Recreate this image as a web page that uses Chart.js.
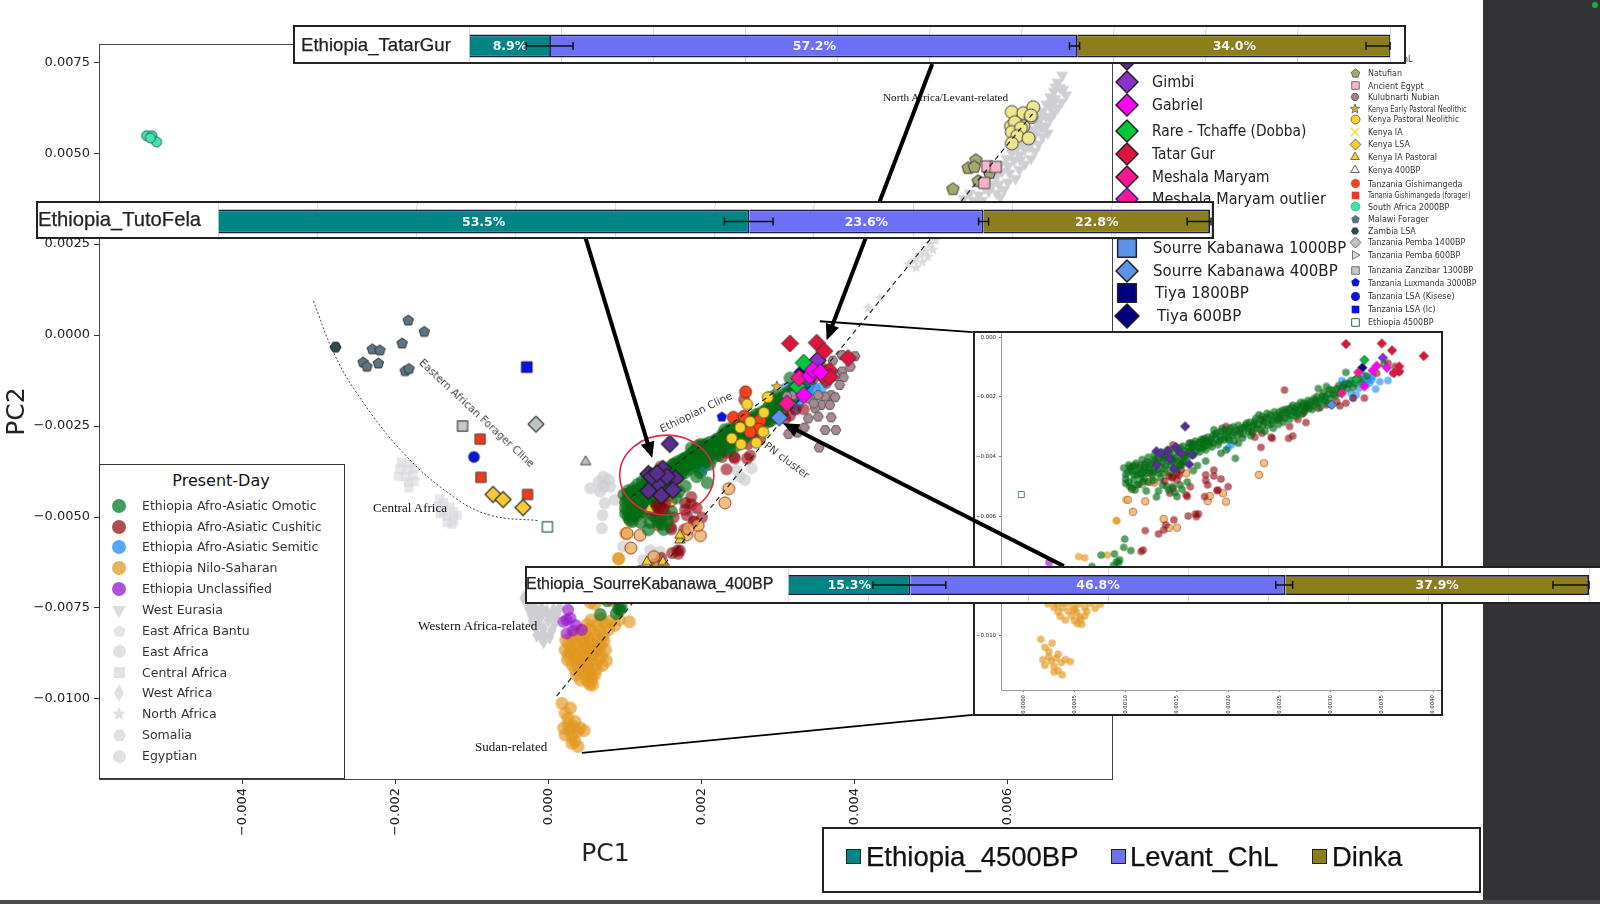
<!DOCTYPE html>
<html><head><meta charset="utf-8">
<script src="https://cdn.jsdelivr.net/npm/chart.js@4"></script>
<style>
html,body{margin:0;padding:0;background:#fff;width:1600px;height:904px;overflow:hidden;font-family:"DejaVu Sans",sans-serif}
body{filter:blur(.35px)}
.abs{position:absolute}
.box{position:absolute;background:#fff;border:2px solid #222;box-sizing:border-box}
.lbl{position:absolute;white-space:nowrap;line-height:1;color:#222}
canvas{display:block}
</style></head><body>
<script>
// All PCA values below are in units of 0.001
const K = 0.001;
const xTicksMain = [-0.004,-0.002,0,0.002,0.004,0.006];
const yTicksMain = [0.0075,0.005,0.0025,0,-0.0025,-0.005,-0.0075,-0.01];
const xTicksInset = [0,0.0005,0.001,0.0015,0.002,0.0025,0.003,0.0035,0.004];
const yTicksInset = [0,-0.002,-0.004,-0.006,-0.008,-0.01];

const omotic = [[.98,-4.38],[1.02,-4.52],[1.05,-4.42],[1.08,-4.62],[1.03,-4.28],[1.1,-4.22],[1.12,-4.48],[1.15,-4.7],[1.16,-4.1],[1.18,-4.35],[1.2,-4.55],[1.22,-4.02],[1.24,-4.25],[1.26,-4.62],[1.28,-3.95],[1.3,-4.18],[1.31,-4.44],[1.34,-4.72],[1.35,-3.85],[1.37,-4.08],[1.39,-4.32],[1.41,-3.78],[1.43,-4.55],[1.45,-3.98],[1.47,-4.22],[1.49,-3.72],[1.5,-4.42],[1.52,-3.9],[1.54,-4.12],[1.56,-3.65],[1.58,-3.82],[1.6,-4.02],[1.62,-3.55],[1.64,-3.75],[1.66,-3.95],[1.68,-3.48],[1.7,-3.68],[1.72,-3.85],[1.74,-3.42],[1.76,-3.58],[1.78,-3.78],[1.8,-3.35],[1.82,-3.52],[1.84,-3.68],[1.86,-3.1],[1.88,-3.42],[1.9,-3.6],[1.92,-3.3],[1.94,-3.05],[1.96,-3.45],[1.98,-3.22],[2.0,-3.38],[2.02,-3.05],[2.04,-3.28],[2.06,-3.48],[2.08,-3.12],[2.1,-2.95],[2.12,-3.2],[2.14,-3.38],[2.16,-3.02],[2.18,-2.88],[2.2,-3.15],[2.22,-3.3],[2.24,-2.98],[2.26,-2.82],[2.28,-3.05],[2.3,-2.6],[2.32,-2.78],[2.34,-2.95],[2.36,-3.15],[2.38,-2.55],[2.4,-2.72],[2.42,-2.9],[2.44,-3.05],[2.46,-2.62],[2.48,-2.78],[2.5,-2.5],[2.52,-2.68],[2.54,-2.85],[2.56,-2.42],[2.58,-2.58],[2.6,-2.75],[2.62,-2.35],[2.64,-2.5],[2.66,-2.65],[2.68,-2.28],[2.7,-2.42],[2.72,-2.58],[2.74,-2.2],[2.76,-2.35],[2.78,-2.12],[2.8,-2.28],[2.82,-2.42],[2.84,-2.05],[2.86,-2.2],[2.88,-1.72],[2.9,-2.35],[2.92,-1.98],[2.94,-2.12],[2.96,-1.65],[2.98,-1.9],[3.0,-2.05],[3.02,-1.78],[3.05,-1.95],[3.08,-1.62],[3.1,-1.8],[3.14,-1.55],[3.16,-1.72],[3.2,-1.45],[3.22,-1.68],[3.25,-1.4],[3.3,-1.5],[3.35,-1.3],[3.52,-.9],[3.15,-1.18],
[1.07,-4.33],[1.11,-4.6],[1.17,-4.52],[1.21,-4.18],[1.25,-4.42],[1.29,-4.08],[1.33,-4.3],[1.36,-4.55],[1.4,-3.98],[1.44,-4.28],[1.48,-4.05],[1.51,-3.82],[1.55,-4.28],[1.59,-3.95],[1.63,-3.85],[1.67,-3.6],[1.71,-3.55],[1.75,-3.72],[1.79,-3.5],[1.83,-3.42],[1.87,-3.25],[1.91,-3.5],
[1.0,-4.6],[1.04,-4.36],[1.06,-4.5],[1.09,-4.3],[1.13,-4.38],[1.14,-4.58],[1.19,-4.25],[1.19,-4.45],[1.23,-4.35],[1.27,-4.15],[1.27,-4.5],[1.32,-4.05],[1.32,-4.55],[1.36,-3.95],[1.36,-4.2],[1.38,-4.42],[1.42,-4.15],[1.42,-3.9],[1.46,-3.75],[1.46,-4.1],[1.5,-4.15],[1.53,-3.7],[1.53,-4.3],[1.57,-3.95],[1.57,-4.15],[1.61,-3.7],[1.61,-3.85],[1.65,-3.55],[1.65,-3.7],[1.69,-3.8],[1.73,-3.5],[1.73,-3.7],[1.77,-3.4],[1.77,-3.65],[1.81,-3.6],[1.85,-3.3],[1.85,-3.55],[1.89,-3.2],[1.93,-3.15],[1.93,-3.42],[1.97,-3.1],[1.97,-3.32],[2.01,-3.15],[2.01,-3.45],[2.05,-3.0],[2.05,-3.2],[2.09,-3.3],[2.13,-3.05],[2.15,-3.25],[2.17,-2.95],[2.19,-3.05],[2.21,-2.85],[2.23,-3.15],[2.25,-2.92],[2.27,-2.72],[2.29,-2.92],[2.31,-3.1],[2.33,-2.65],[2.35,-2.85],[2.37,-2.7],[2.39,-2.95],[2.41,-2.6],[2.43,-2.8],[2.45,-2.5],[2.47,-2.72],[2.49,-2.92],[2.51,-2.6],[2.53,-2.45],[2.55,-2.72],[2.57,-2.52],[2.59,-2.4],[2.61,-2.62],[2.63,-2.28],[2.65,-2.42],[2.67,-2.55],[2.69,-2.35],[2.71,-2.18],[2.73,-2.3],[2.75,-2.48],[2.77,-2.25],[2.79,-2.38],[2.81,-2.15],[2.83,-2.3],[2.85,-2.12],[2.87,-1.98],[2.89,-2.18],[2.91,-2.08],[2.93,-1.85],[2.95,-2.0],[2.97,-2.2],[2.99,-1.75],[3.03,-1.92],[3.06,-1.72],[3.09,-1.88],[3.12,-1.68],[3.18,-1.58],[3.24,-1.55],[3.28,-1.4],
[1.0,-4.75],[1.03,-4.85],[1.08,-4.78],[1.13,-4.92],[1.18,-4.72],[1.22,-4.85],[1.27,-4.8],[1.04,-5.0],[1.32,-5.15],[1.36,-4.95],[1.42,-5.12],[1.48,-5.2],[1.55,-5.1],[1.6,-4.85],[1.7,-4.3],[1.78,-4.15],[2.1,-3.55],
[1.46,-5.0],[1.5,-5.34],[1.09,-5.12],[1.11,-4.95],[1.17,-4.84],[1.4,-5.0],[1.53,-4.95],[1.66,-4.47],[1.93,-3.89],[1.98,-3.78],[2.07,-4.06],[.99,-6.76],[.98,-7.04],[1.05,-7.15],[.76,-7.3],[.89,-7.26],[.94,-7.46],[.91,-7.52],[.93,-7.55],[.67,-7.68],[.88,-7.65],[1.0,-4.9],[1.06,-5.05],[1.2,-5.15],[1.3,-5.35]];
const cushitic = [[3.33,-2.04],[3.22,-2.04],[3.09,-2.3],[3.15,-2.21],[3.06,-2.16],[2.96,-2.27],[2.88,-2.38],[2.76,-2.38],[2.73,-2.55],[2.68,-2.75],[2.76,-2.86],[2.6,-2.99],[2.59,-3.39],[2.55,-1.77],[2.63,-3.31],[2.42,-3.35],[2.43,-3.39],[2.32,-3.69],[2.24,-3.2],[2.33,-3.22],[2.26,-3.35],[1.46,-3.61],[1.63,-3.55],[1.53,-4.28],[1.5,-4.56],[1.54,-4.45],[1.46,-4.67],[1.56,-4.17],[1.37,-4.0],[1.15,-4.28],[1.24,-4.56],[1.63,-5.01],[1.59,-5.28],[1.6,-5.34],[1.46,-5.06],[1.43,-5.23],[1.86,-4.45],[1.78,-4.61],[1.86,-4.65],[1.78,-4.8],[1.8,-4.95],[1.93,-4.75],[2.0,-5.01],[1.9,-5.12],[1.89,-5.14],[1.77,-5.34],[1.61,-5.99],[1.68,-5.92],[1.69,-6.01],[1.71,-5.92],[1.47,-6.12],[1.39,-6.29],[1.37,-6.46],[1.32,-6.59],[1.19,-6.48],[1.17,-7.13],[1.15,-7.18],[3.56,-.87],[3.45,-1.21],[3.61,-1.21],[3.67,-1.15],[3.63,-.98],[2.34,-2.77],[2.5,-2.72],[1.76,-3.44],[1.98,-2.99],[2.11,-3.11]];
const cushiticDeep = [[1.45,-4.72],[1.5,-4.78],[1.38,-4.82],[1.52,-4.62],[1.42,-4.65]];
const semitic = [[2.03,-3.61],[2.65,-2.49],[3.12,-1.6],[3.11,-1.45],[3.17,-1.54],[3.22,-2.04],[3.25,-1.93],[3.28,-1.71],[3.37,-1.37],[3.4,-1.43],[3.38,-1.54],[3.44,-1.74],[3.56,-1.45],[3.48,-1.49],[3.41,-1.32],[3.32,-1.26],[3.01,-2.27],[3.2,-1.88],[3.33,-1.6],[3.35,-1.49],[2.0,-3.71]];
const nilo = [[.91,-6.15],[.54,-7.35],[.6,-7.39],[.82,-7.3],[1.0,-5.45],[.91,-6.14],
[.55,-7.83],[.68,-7.8],[.8,-7.86],[.92,-7.82],[1.05,-7.88],[.5,-7.95],[.63,-7.97],[.74,-7.93],[.86,-7.98],[.42,-8.1],[.54,-8.08],[.66,-8.12],[.78,-8.09],[.3,-8.25],[.4,-8.23],[.5,-8.27],[.6,-8.24],[.71,-8.26],[.22,-8.38],[.31,-8.4],[.44,-8.36],[.53,-8.39],[.64,-8.37],[.72,-8.41],[.26,-8.5],[.37,-8.52],[.47,-8.49],[.57,-8.51],[.68,-8.5],[.21,-8.65],[.3,-8.63],[.41,-8.66],[.52,-8.64],[.63,-8.67],[.74,-8.65],[.25,-8.8],[.36,-8.78],[.46,-8.81],[.56,-8.79],[.69,-8.82],[.24,-8.93],[.33,-8.95],[.43,-8.92],[.54,-8.94],[.65,-8.91],[.75,-8.95],[.3,-9.05],[.38,-9.07],[.49,-9.04],[.6,-9.06],[.7,-9.08],[.34,-9.2],[.44,-9.18],[.52,-9.22],[.62,-9.19],[.36,-9.35],[.47,-9.33],[.55,-9.37],[.6,-9.34],[.41,-9.48],[.5,-9.5],[.56,-9.47],[.53,-9.6],[.57,-9.62],
[.35,-8.3],[.47,-8.58],[.58,-8.72],[.28,-8.72],[.39,-8.88],[.5,-9.12],[.66,-8.58],[.48,-8.18],
[.17,-10.12],[.28,-10.25],[.21,-10.39],[.25,-10.53],[.34,-10.62],[.19,-10.8],[.46,-10.87],[.21,-10.99],[.3,-11.03],[.34,-11.17],[.38,-11.31],[.37,-10.9],[.27,-10.85],[.25,-10.71],[.32,-10.76],[.41,-10.8],[.3,-11.22]];
const niloEdged = [[2.35,-4.22],[2.3,-4.61],[1.98,-5.51],[1.8,-5.49],[1.5,-6.38],[1.42,-6.39],[1.19,-5.5],[1.07,-5.85],[1.02,-5.45],[1.06,-5.09],[1.16,-4.93],[1.28,-4.87],[1.37,-6.09],[1.95,-5.23],[1.82,-5.32],[1.59,-4.56],[1.24,-4.84]];
const unclassified = [[.25,-7.55],[.23,-7.83],[.35,-7.97],[.31,-8.12],[.23,-8.2],[.43,-8.1],[.19,-7.88],[.28,-7.78]];
const westEurasia = [[6.71,7.14],[6.65,6.95],[6.68,6.8],[6.6,6.7],[6.62,6.5],[6.55,6.55],[6.5,6.35],[6.56,6.25],[6.45,6.15],[6.5,6.0],[6.42,5.95],[6.38,5.8],[6.44,5.7],[6.3,5.65],[6.35,5.5],[6.25,5.45],[6.3,5.3],[6.2,5.25],[6.22,5.1],[6.12,5.15],[6.15,4.95],[6.05,5.0],[6.08,4.8],[5.98,4.85],[6.0,4.65],[5.9,4.7],[5.92,4.5],[5.82,4.6],[5.85,4.35],[5.75,4.4],[5.8,4.15],[5.7,4.05],[5.75,3.95],[5.62,3.85],[5.66,3.7],[5.55,3.7],
[6.76,6.6],[6.7,6.4],[6.65,6.25],[6.6,6.1],[6.55,5.95],[6.5,5.75],[6.52,5.55],[6.45,5.45],[6.4,5.25],[6.35,5.05],[6.3,4.85],[6.22,4.7],[6.15,4.55],[6.1,4.3],[6.0,4.2],[5.95,4.0],[5.9,3.8],[5.85,3.9],[5.5,3.9],[5.42,3.75],[6.72,6.75],[6.62,6.82],[6.58,6.38],[6.44,6.02],[6.36,5.62],[6.28,5.18],[6.16,4.82],[6.02,4.45],[5.88,4.15]];
const northAfrica = [[5.05,2.6],[4.98,2.5],[5.02,2.35],[4.92,2.3],[4.95,2.15],[4.85,2.2],[4.88,2.0],[4.78,2.05],[4.8,1.85],[4.7,1.95],[4.33,1.02],[4.17,.74]];
const eastAfrica = [[.71,-3.89],[.65,-4.03],[.78,-3.98],[.71,-4.17],[.54,-4.21],[.8,-4.17],[.67,-4.3],[.73,-4.62],[.86,-4.53],[.7,-4.95],[.69,-5.31],[.97,-5.81],[1.32,-5.91],[1.45,-5.95],[1.23,-6.18],[2.5,-3.89],[2.65,-3.66],[2.56,-3.98],[2.45,-3.71],[1.86,-4.85],[1.8,-4.62],[1.38,-6.05]];
const westAfrica = [[-.33,-7.23],[-.2,-7.42],[-.1,-7.5],[.06,-7.55],[.14,-7.5],[-.23,-7.69],[-.12,-7.78],[-.01,-7.83],[.1,-7.69],[-.18,-8.01],[-.07,-8.06],[.04,-8.1],[-.16,-8.24],[-.07,-8.42],[.01,-8.29],[-.03,-7.6],[-.27,-7.5],[-.14,-7.95],[-.06,-8.22],[.08,-7.9],[-.17,-7.6],[.02,-7.72],[-.09,-7.66],[-.22,-7.85],[-.1,-8.3]];
const centralAfrica = [[-1.93,-3.5],[-1.82,-3.52],[-1.95,-3.68],[-1.85,-3.7],[-1.76,-3.66],[-1.97,-3.88],[-1.88,-3.9],[-1.78,-3.86],[-1.84,-4.05],[-1.76,-4.02],[-1.83,-4.2],[-1.43,-4.5],[-1.38,-4.6],[-1.45,-4.7],[-1.3,-4.72],[-1.38,-4.85],[-1.25,-4.85],[-1.2,-4.95],[-1.33,-4.98],[-1.25,-5.1],[-1.33,-5.15],[-1.42,-4.9],[-1.27,-5.2]];
const levantChL = [[6.05,6.13],[6.2,6.1],[6.33,6.26],[6.3,5.99],[6.04,5.74],[6.2,5.74],[6.09,5.85],[6.05,5.58],[6.17,5.69],[6.12,5.47],[6.27,5.41],[6.05,5.27],[6.3,6.04]];
const natufian = [[5.28,4.01],[5.48,4.59],[5.58,4.81],[5.56,4.62],[5.76,4.45],[5.61,4.23]];
const ancientEgypt = [[5.73,4.64],[5.84,4.62],[5.69,4.18]];
const kulubnarti = [[3.83,-.55],[4.0,-.58],[3.71,-.7],[3.94,-.87],[3.83,-1.0],[3.85,-1.16],[3.74,-1.13],[3.8,-1.37],[3.63,-1.33],[3.69,-1.65],[3.74,-1.71],[3.61,-1.69],[3.52,-1.65],[3.39,-1.74],[3.19,-1.65],[3.11,-1.68],[3.56,-1.92],[3.48,-2.01],[3.67,-1.92],[3.39,-2.29],[3.52,-2.24],[3.69,-2.26],[3.61,-2.61],[3.75,-2.61],[3.34,-2.54],[3.13,-2.72],[3.25,-2.68],[3.53,-3.09],[3.46,-1.88]];
const kenyaEarlyPastoral = [[2.98,-1.42]];
const kenyaPastoral = [[2.59,-1.9],[2.86,-1.71],[2.39,-2.84],[2.51,-3.0],[2.71,-2.96],[2.8,-2.66],[2.5,-2.54],[2.81,-2.13],[2.63,-2.38]];
const kenyaLSA = [[-.73,-4.38],[-.6,-4.52],[-.34,-4.74]];
const kenyaIAPastoral = [[1.31,-4.79],[1.71,-5.63],[1.71,-5.5],[1.28,-6.23],[1.49,-6.23]];
const kenya400 = [[.48,-3.48]];
const gishimangeda = [[2.57,-1.56],[2.41,-2.26],[2.55,-2.23],[2.76,-2.34],[2.74,-2.58],[2.63,-2.66]];
const gishForager = [[-.9,-2.86],[-.89,-3.91],[-.28,-4.38]];
const southAfrica = [[-5.26,5.48],[-5.19,5.48],[-5.13,5.31],[-5.21,5.42]];
const malawi = [[-1.84,.4],[-1.63,.09],[-1.92,-.23],[-2.31,-.39],[-2.21,-.42],[-2.43,-.75],[-2.38,-.87],[-2.23,-.78],[-1.88,-.99],[-1.83,-.93]];
const zambia = [[-2.79,-.33]];
const pemba1400 = [[-.17,-2.45]];
const zanzibar = [[-1.13,-2.5]];
const luxmanda = [[2.26,-2.25]];
const kisese = [[-.98,-3.35]];
const lsaLc = [[-.29,-.88]];
const ethiopia4500 = [[-.02,-5.27]];
const tutoFela = [[1.58,-2.99],[1.3,-3.82],[1.49,-3.68],[1.65,-3.94],[1.43,-4.08],[1.3,-4.28],[1.47,-4.41],[1.54,-3.89],[1.34,-3.89],[1.62,-4.26],[1.41,-3.8]];
const gimbi = [[3.51,-.69]];
const gabriel = [[3.33,-1.65],[3.41,-1.12],[3.45,-.96],[3.55,-1.02]];
const rare = [[3.33,-.76],[3.25,-1.41]];
const tatarGur = [[3.15,-.23],[3.5,-.21],[3.6,-.44],[3.91,-.63],[3.67,-.98],[3.62,-1.2],[3.67,-1.15]];
const meshala = [[3.27,-1.18],[3.11,-1.88]];
const sourre400 = [[3.01,-2.27]];
const tiya600 = [[3.31,-1.02]];
// guide lines & callouts (same units)
const pnCline = [[.1,-9.92],[6.33,6.1]];
const ethCline = [[1.08,-4.44],[3.28,-1.05]];
const foragerCurve = [[-3.08,.94],[-2.82,-.46],[-2.51,-1.6],[-1.9,-3.25],[-1.25,-4.44],[-.77,-4.95],[-.14,-5.1]];
const calloutArrows = [[5.01,7.45,3.63,-.14],[.48,2.66,1.35,-3.38],[6.73,-6.35,3.06,-2.42]];
const insetConnectors = [[5.54,.08,3.54,.38],[5.54,-10.44,.43,-11.48]];
const circleNote = [1.54,-3.85,.615,1.1];

const presentLabels = ["Ethiopia Afro-Asiatic Omotic","Ethiopia Afro-Asiatic Cushitic","Ethiopia Afro-Asiatic Semitic","Ethiopia Nilo-Saharan","Ethiopia Unclassified","West Eurasia","East Africa Bantu","East Africa","Central Africa","West Africa","North Africa","Somalia","Egyptian"];
const bigLegendLabels = ["Tuto Fela","Gimbi","Gabriel","Rare - Tchaffe (Dobba)","Tatar Gur","Meshala Maryam","Meshala Maryam outlier","Sourre Kabanawa 1000BP","Sourre Kabanawa 400BP","Tiya 1800BP","Tiya 600BP"];
const smallLegendLabels = ["Levant ChL","Natufian","Ancient Egypt","Kulubnarti Nubian","Kenya Early Pastoral Neolithic","Kenya Pastoral Neolithic","Kenya IA","Kenya LSA","Kenya IA Pastoral","Kenya 400BP","Tanzania Gishimangeda","Tanania Gishimangeda (forager)","South Africa 2000BP","Malawi Forager","Zambia LSA","Tanzania Pemba 1400BP","Tanzania Pemba 600BP","Tanzania Zanzibar 1300BP","Tanzania Luxmanda 3000BP","Tanzania LSA (Kisese)","Tanzania LSA (lc)","Ethiopia 4500BP"];

const ancestry = ["Ethiopia_4500BP","Levant_ChL","Dinka"];
const barTatar = [8.9,57.2,34.0];
const barTuto = [53.5,23.6,22.8];
const barSourre = [15.3,46.8,37.9];
const errTatar = [[6.2,11.3],[65.2,66.3],[97.4,100]];
const errTuto = [[51.0,55.9],[76.6,77.6],[97.6,100]];
const errSourre = [[10.6,19.7],[60.9,63.0],[95.5,100]];

// ---- colours
const C = {om:'rgba(0,110,20,.66)',cu:'rgba(140,0,10,.6)',se:'rgba(30,144,255,.65)',ni:'rgba(226,150,30,.66)',un:'rgba(150,20,205,.65)',gr:'rgba(205,205,210,.7)',gs:'#cfcfd3',gl:'rgba(215,215,220,.6)'};

function mk(kind,r,fill,stroke,lw){
  lw = lw||0; const pad=Math.ceil(lw)+1, s=Math.ceil(2*(r+pad)); const c=document.createElement('canvas'); c.width=s;c.height=s;
  const g=c.getContext('2d'), m=s/2; g.lineJoin='round'; g.beginPath();
  const poly=(n,rot)=>{for(let i=0;i<n;i++){const a=rot+i*2*Math.PI/n;g[i?'lineTo':'moveTo'](m+r*Math.cos(a),m+r*Math.sin(a));}g.closePath();};
  const up=-Math.PI/2;
  if(kind==='circle')g.arc(m,m,r,0,7);
  else if(kind==='square')g.rect(m-r*.85,m-r*.85,r*1.7,r*1.7);
  else if(kind==='diamond')poly(4,0);
  else if(kind==='thin'){g.moveTo(m,m-r);g.lineTo(m+r*.55,m);g.lineTo(m,m+r);g.lineTo(m-r*.55,m);g.closePath();}
  else if(kind==='tri')poly(3,up);
  else if(kind==='tridown')poly(3,-up);
  else if(kind==='triright')poly(3,0);
  else if(kind==='pent')poly(5,up);
  else if(kind==='hex')poly(6,0);
  else if(kind==='star'){for(let i=0;i<10;i++){const a=up+i*Math.PI/5,q=i%2?r*.45:r;g[i?'lineTo':'moveTo'](m+q*Math.cos(a),m+q*Math.sin(a));}g.closePath();}
  else if(kind==='x'){g.moveTo(m-r,m-r);g.lineTo(m+r,m+r);g.moveTo(m+r,m-r);g.lineTo(m-r,m+r);g.strokeStyle=fill;g.lineWidth=1.6;g.stroke();return c;}
  if(fill){g.fillStyle=fill;g.fill();}
  if(stroke&&lw){g.strokeStyle=stroke;g.lineWidth=lw;g.stroke();}
  return c;
}
const pts = a=>a.map(p=>({x:p[0]*K,y:p[1]*K}));
function ds(a,kind,r,fill,stroke,lw){return {data:pts(a),pointStyle:mk(kind,r,fill,stroke,lw),pointRadius:r,showLine:false};}
function line(a,color,w,dash,tension){return {data:pts(a),showLine:true,pointRadius:0,borderColor:color,borderWidth:w,borderDash:dash,tension:tension||0,fill:false};}

const mainLayers = [
 ds(westEurasia,'tridown',7,C.gs), ds(northAfrica,'star',6,C.gr), ds(eastAfrica,'circle',6,C.gr), ds(westAfrica,'thin',8,C.gs), ds(centralAfrica,'square',5.5,C.gl),
 line(foragerCurve,'#444',1,[2,2],.4),
 ds(nilo,'circle',6.5,C.ni), ds(unclassified,'circle',6,C.un), ds(semitic,'circle',6,C.se),
 ds(cushitic,'circle',6,C.cu), ds(niloEdged,'circle',6,'rgba(235,170,90,.75)','#a04020',1), ds(omotic,'circle',6.5,C.om), ds(cushiticDeep,'circle',6,C.cu),
 ds(levantChL,'circle',6.5,'#eee78e','#444',1), ds(natufian,'pent',6.5,'#a5a96e','#333',1), ds(ancientEgypt,'square',6.5,'#f7b6c8','#444',1),
 ds(kulubnarti,'hex',5,'#a98a92','#555',1),
 ds(gishimangeda,'circle',6,'#f0431e','#8a2a10',1), ds(kenyaPastoral,'circle',5.5,'#f8d030','#6a5a10',1), ds(kenyaEarlyPastoral,'star',6,'#d8b830','#555',.8), ds(kenyaIAPastoral,'tri',6,'#f5cf2a','#444',1),
 ds(kenya400,'tri',6,'#b8c0c4','#444',1), ds(gishForager,'square',6,'#ee3a1e','#444',1), ds(southAfrica,'circle',5,'#45e0b0','#1f6a60',1),
 ds(malawi,'pent',5.5,'#5f7482','#333',1), ds(zambia,'hex',5.5,'#2f4a50','#222',1), ds(pemba1400,'diamond',8,'#bcc4c4','#444',1.2), ds(zanzibar,'square',6,'#c3cacc','#444',1.2),
 ds(luxmanda,'pent',5.5,'#0a14d8'), ds(kisese,'circle',5.5,'#0a14d8','#222',.6), ds(lsaLc,'square',6.5,'#0a14e0','#222',.6), ds(ethiopia4500,'square',6,'#fff','#2f6a4a',1.3),
 ds(kenyaLSA,'diamond',8,'#fbc933','#333',1.2),
 line(pnCline,'#222',1.2,[5,4]), line(ethCline,'#222',1.2,[5,4]),
 ds(tiya600,'diamond',8.5,'#000080','#222',1), ds(tutoFela,'diamond',8.5,'#5a2d91','#222',1.2), ds(gimbi,'diamond',8.5,'#8b32c8','#222',1.2),
 ds(tatarGur,'diamond',8.5,'#dc143c','#333',1), ds(rare,'diamond',8.5,'#00c83c','#222',1), ds(meshala,'diamond',8.5,'#ff1493','#333',1), ds(gabriel,'diamond',8.5,'#ff00ff','#333',1), ds(sourre400,'diamond',8.5,'#5a93e8','#224',1)
];
const insetLayers = [
 ds(nilo,'circle',3.8,C.ni), ds(unclassified,'circle',3.8,C.un), ds(semitic,'circle',3.8,C.se),
 ds(niloEdged,'circle',3.8,'rgba(235,170,90,.75)','#a04020',.6), ds(cushitic,'circle',3.8,C.cu), ds(omotic,'circle',3.8,C.om), ds(cushiticDeep,'circle',3.8,C.cu),
 ds(ethiopia4500,'square',3.5,'#fff','#2f6a4a',.8),
 ds(tutoFela,'diamond',4.8,'#5a2d91','#336',.6), ds(gimbi,'diamond',4.8,'#8b32c8','#336',.6), ds(tiya600,'diamond',4.8,'#000080','#224',.6),
 ds(tatarGur,'diamond',4.8,'#dc143c','#844',.6), ds(rare,'diamond',4.8,'#00b83c','#244',.6), ds(meshala,'diamond',4.8,'#ff1493','#844',.6), ds(gabriel,'diamond',4.8,'#ff00ff','#844',.6), ds(sourre400,'diamond',4.8,'#5a93e8','#224',.6)
];

function addCanvas(l,t,w,h,z){const c=document.createElement('canvas');c.width=w;c.height=h;c.className='abs';c.style.cssText=`left:${l}px;top:${t}px;width:${w}px;height:${h}px;z-index:${z}`;document.body.appendChild(c);return c;}
const minus = s=>s.replace('-','\u2212');
const frame = {id:'frame',afterDraw(ch){const a=ch.chartArea,g=ch.ctx;g.save();g.strokeStyle='#444';g.lineWidth=1;g.strokeRect(Math.round(a.left)+.5,Math.round(a.top)+.5,Math.round(a.width),Math.round(a.height));g.restore();}};
const note = {id:'note',afterDatasetsDraw(ch){const [cx,cy,rx,ry]=circleNote,X=ch.scales.x,Y=ch.scales.y,g=ch.ctx;g.save();g.strokeStyle='#e02a48';g.lineWidth=1.6;g.beginPath();
  g.ellipse(X.getPixelForValue(cx*K),Y.getPixelForValue(cy*K),X.getPixelForValue((cx+rx)*K)-X.getPixelForValue(cx*K),Y.getPixelForValue((cy-ry)*K)-Y.getPixelForValue(cy*K),0,0,7);g.stroke();g.restore();}};

function scatterOpts(o){return {responsive:false,animation:false,events:[],layout:{padding:o.pad,autoPadding:false},
 plugins:{legend:{display:false},tooltip:{enabled:false}},
 scales:{
  x:{type:'linear',min:o.xr[0],max:o.xr[1],position:'bottom',afterFit:s=>{s.height=o.xh;s.paddingLeft=0;s.paddingRight=0;},afterBuildTicks:s=>{s.ticks=o.xt.map(v=>({value:v}))},
    grid:{drawOnChartArea:false,tickLength:o.tl,color:o.tc},border:{display:false},
    ticks:{autoSkip:false,minRotation:90,maxRotation:90,font:{size:o.fs,family:'DejaVu Sans'},color:'#222',padding:o.tp,callback:v=>minus(v.toFixed(o.xd))},
    title:o.xtitle},
  y:{type:'linear',min:o.yr[0],max:o.yr[1],afterFit:s=>{s.width=o.yw;s.paddingTop=0;s.paddingBottom=0;},afterBuildTicks:s=>{s.ticks=o.yt.map(v=>({value:v}))},
    grid:{drawOnChartArea:false,tickLength:o.tl,color:o.tc},border:{display:false},
    ticks:{autoSkip:false,font:{size:o.fs,family:'DejaVu Sans'},color:'#222',padding:o.tp,callback:v=>minus(v.toFixed(o.yd))},
    title:o.ytitle}
 }};}

const mainChart = new Chart(addCanvas(0,0,1600,904,1),{type:'scatter',data:{datasets:mainLayers.slice().reverse()},plugins:[frame,note],
 options:scatterOpts({pad:{top:44,right:488,left:0,bottom:0},xr:[-5.882*K,7.36*K],yr:[-12.2*K,8.0*K],xh:125,yw:99,xt:xTicksMain,yt:yTicksMain,tl:5,tc:'#333',fs:13,tp:4,xd:3,yd:4,
  xtitle:{display:true,text:'PC1',font:{size:25,family:'DejaVu Sans'},color:'#222',padding:{top:0,bottom:35}},
  ytitle:{display:true,text:'PC2',font:{size:25,family:'DejaVu Sans'},color:'#222',padding:{top:2,bottom:0}}})});

// ---- present-day legend
const presentMarkers = [mk('circle',7,'#3f9f5a'),mk('circle',7,'#ad4f52'),mk('circle',7,'#55a8f5'),mk('circle',7,'#e6b35f'),mk('circle',7,'#b04fdc'),mk('tridown',8,'#dcdce0'),mk('pent',6.5,'#e4e4e6'),mk('circle',6.5,'#e0e0e4'),mk('square',6.5,'#e2e2e4'),mk('thin',9,'#e0e0e4'),mk('star',7,'#dfdfe2'),mk('hex',6.5,'#e0e0e4'),mk('circle',6.5,'#e0e0e4')];
const presentY = [506,526.5,547,568,589,610,631,651.5,672.5,693,714,735,756];
function addMarker(c,x,y,z){c.className='abs';c.style.left=(x-c.width/2)+'px';c.style.top=(y-c.height/2)+'px';c.style.zIndex=z;document.body.appendChild(c);}
function addText(t,x,y,css,z){const d=document.createElement('div');d.className='lbl';d.textContent=t;d.style.cssText=`left:${x}px;top:${y}px;z-index:${z||2};transform:translateY(-50%);`+css;document.body.appendChild(d);return d;}
const pbox=document.createElement('div');pbox.className='box';pbox.style.cssText='left:99px;top:464px;width:246px;height:315px;z-index:2;border-width:1.5px;border-color:#333';document.body.appendChild(pbox);
addText('Present-Day',221,481,'font-size:16px;color:#111;transform:translate(-50%,-50%);',2);
presentLabels.forEach((t,i)=>{addMarker(presentMarkers[i],119,presentY[i],3);addText(t,142,presentY[i],'font-size:12.5px;color:#333;',3);});

// ---- right legends
const bigMarkers=[mk('diamond',10,'#5a2d91','#222',1.5),mk('diamond',11,'#8b32c8','#222',1.5),mk('diamond',11,'#ff00ff','#222',1.5),mk('diamond',11,'#00c83c','#222',1.5),mk('diamond',11,'#dc143c','#222',1.5),mk('diamond',11,'#ff1493','#222',1.5),mk('diamond',11,'#ff1493','#2222cc',1.5),mk('square',11,'#5a93e8','#222',1.5),mk('diamond',11,'#5a93e8','#222',1.5),mk('square',11,'#000080','#222',1.5),mk('diamond',12,'#000080','#222',1.5)];
const bigY=[60,81.7,105,131,154,177,199,248,270.7,293,316];
const bigTextY=[53,82.7,106,132,155,178,200,249,271.7,294,317];
const bigScale=[.9,.93,.91,.89,.885,.89,.93,.965,.97,.975,.975];
const bigX=[1152,1152,1152,1152,1152,1152,1152,1153,1153,1155,1157];
bigLegendLabels.forEach((t,i)=>{addMarker(bigMarkers[i],1127,bigY[i],2);addText(t,bigX[i],bigTextY[i],`font-size:15.5px;color:#222;transform-origin:0 50%;transform:translateY(-50%) scaleX(${bigScale[i]});`,2);});
const smallMarkers=[mk('circle',4,'#eee78e','#444',.8),mk('pent',4.5,'#a5a96e','#555',.8),mk('square',4.5,'#f7b6c8','#555',.8),mk('hex',4,'#a58088','#555',.8),mk('star',5,'#c8b040','#555',.7),mk('circle',4.5,'#f8d030','#555',.8),mk('x',4,'#ffd83a'),mk('diamond',5.5,'#fbc933','#555',.8),mk('tri',5,'#f5cf2a','#555',.8),mk('tri',5,'#fff','#555',.9),mk('circle',4.5,'#f0431e'),mk('square',4.5,'#ee3a1e'),mk('circle',4.5,'#45e0b0','#2a6',.7),mk('pent',4.5,'#5f7482'),mk('hex',4,'#2f4a50'),mk('diamond',5.5,'#bcc4c4','#555',.8),mk('triright',5,'#d6dcdc','#555',.8),mk('square',4.5,'#c3cacc','#555',.8),mk('pent',4.5,'#0a14d8'),mk('circle',4.5,'#0a14d8'),mk('square',4.5,'#0a14e0'),mk('square',4.5,'#fff','#2f6a4a',1)];
const smallY=[59,73,85.7,97,109,119,132,144,157,170,183.7,195,206.7,219,231,242,255,270,282.7,296,309,322];
const smallScale=[.95,.95,.95,.95,.79,.9,.95,.95,.95,.95,.95,.76,.95,.95,.95,.95,.95,.95,.92,.95,.95,.95];
smallLegendLabels.forEach((t,i)=>{addMarker(smallMarkers[i],1355,smallY[i],2);addText(t,1368,smallY[i],`font-size:8.4px;color:#333;transform-origin:0 50%;transform:translateY(-50%) scaleX(${smallScale[i]});`,2);});

// ---- plot notes
addText('North Africa/Levant-related',883,98,'font-size:11.2px;font-family:Liberation Serif;color:#111;',2);
addText('Central Africa',373,507,'font-size:13px;font-family:Liberation Serif;color:#111;',2);
addText('Western Africa-related',418,626,'font-size:13.2px;font-family:Liberation Serif;color:#111;',2);
addText('Sudan-related',475,746,'font-size:13px;font-family:Liberation Serif;color:#111;',2);
const rot=(t,x,y,a,fs)=>addText(t,x,y,`font-size:${fs}px;color:#444;transform:translate(-50%,-50%) rotate(${a}deg);`,2);
rot('Ethiopian Cline',696,412,-26,10.5); rot('PN cluster',787,460,37,10.5); rot('Eastern African Forager Cline',477,413,43,10.5);

// ---- inset
const ibox=document.createElement('div');ibox.className='box';ibox.style.cssText='left:973px;top:331px;width:470px;height:385px;z-index:3;border-color:#222';document.body.appendChild(ibox);
const insetChart = new Chart(addCanvas(975,333,466,381,3),{type:'scatter',data:{datasets:insetLayers.slice().reverse()},
 plugins:[{id:'axisLines',afterDraw(ch){const a=ch.chartArea,g=ch.ctx;g.save();g.strokeStyle='#999';g.lineWidth=1;g.beginPath();g.moveTo(a.left+.5,a.top);g.lineTo(a.left+.5,a.bottom+.5);g.lineTo(a.right,a.bottom+.5);g.stroke();g.restore();}}],
 options:scatterOpts({pad:{top:0,right:0,left:0,bottom:0},xr:[-.218*K,4.078*K],yr:[-11.82*K,.14*K],xh:24,yw:26,xt:xTicksInset,yt:yTicksInset,tl:2,tc:'#777',fs:5.4,tp:3,xd:4,yd:3})});

// ---- callouts
(function(){
 const X=mainChart.scales.x,Y=mainChart.scales.y,px=v=>X.getPixelForValue(v*K),py=v=>Y.getPixelForValue(v*K);
 const ns='http://www.w3.org/2000/svg',s=document.createElementNS(ns,'svg');s.setAttribute('width',1600);s.setAttribute('height',904);s.style.cssText='position:absolute;left:0;top:0;z-index:4;pointer-events:none';
 const el=(n,o)=>{const e=document.createElementNS(ns,n);for(const k in o)e.setAttribute(k,o[k]);s.appendChild(e);};
 insetConnectors.forEach(a=>el('line',{x1:px(a[0]),y1:py(a[1]),x2:px(a[2]),y2:py(a[3]),stroke:'#000','stroke-width':1.8}));
 calloutArrows.forEach(a=>{
  const x0=px(a[0]),y0=py(a[1]),x1=px(a[2]),y1=py(a[3]),d=Math.hypot(x1-x0,y1-y0),ux=(x1-x0)/d,uy=(y1-y0)/d,h=16,w=7;
  el('line',{x1:x0,y1:y0,x2:x1-ux*h*.8,y2:y1-uy*h*.8,stroke:'#000','stroke-width':4});
  el('polygon',{points:`${x1},${y1} ${x1-ux*h-uy*w},${y1-uy*h+ux*w} ${x1-ux*h+uy*w},${y1-uy*h-ux*w}`,fill:'#000'});
 });
 document.body.appendChild(s);
})();

// ---- dark side panel
const side=document.createElement('div');side.style.cssText='position:absolute;left:1483px;top:0;width:117px;height:904px;background:#333235;z-index:0';document.body.appendChild(side);
const strip=document.createElement('div');strip.style.cssText='position:absolute;left:0;top:899.5px;width:1600px;height:5px;background:#4a4a4c;z-index:0';document.body.appendChild(strip);
const dot=document.createElement('div');dot.style.cssText='position:absolute;left:1592px;top:1.5px;width:6px;height:6px;border-radius:50%;background:#12b044;z-index:0';document.body.appendChild(dot);

// ---- ancestry bars
const barColors=['#008585','#6b70f5','#8b7e1b'];
function barChart(name,vals,errs,b){
 const box=document.createElement('div');box.className='box';box.style.cssText=`left:${b.l}px;top:${b.t}px;width:${b.w}px;height:${b.h}px;z-index:5`;document.body.appendChild(box);
 addText(name,b.l+b.tx,b.t+b.h/2+(b.ty||0),`font-size:${b.fs}px;font-family:Liberation Sans;color:#222;-webkit-text-stroke:.25px #222;`,6);
 const iw=b.w-4,ih=b.h-4,pt=b.pt||0,c=addCanvas(b.l+2,b.t+2,iw,ih,6);
 new Chart(c,{type:'bar',data:{labels:[name],datasets:vals.map((v,i)=>({label:ancestry[i],data:[v],backgroundColor:barColors[i],borderColor:'#1b1b4a',borderWidth:1.8,barPercentage:b.bar/(ih-pt),categoryPercentage:1}))},
  plugins:[{id:'gridFull',beforeDatasetsDraw(ch){const g=ch.ctx,X=ch.scales.x;if(!pt)return;g.save();g.strokeStyle='#dcdcdc';g.lineWidth=1;for(let v=0;v<=100;v+=10){const p=Math.round(X.getPixelForValue(v))+.5;g.beginPath();g.moveTo(p,0);g.lineTo(p,pt);g.stroke();}g.restore();}},
   {id:'barNotes',afterDatasetsDraw(ch){const g=ch.ctx,X=ch.scales.x,y=ch.scales.y.getPixelForValue(0);let acc=0;g.save();
    vals.forEach((v,i)=>{g.fillStyle='#f4f4ff';g.font='bold 12.5px "DejaVu Sans"';g.textAlign='center';g.textBaseline='middle';g.fillText(v.toFixed(1)+'%',X.getPixelForValue(acc+v/2),y+1);acc+=v;});
    g.strokeStyle='#111';g.lineWidth=1.5;errs.forEach(e=>{const a=X.getPixelForValue(e[0]),d=X.getPixelForValue(e[1]);g.beginPath();g.moveTo(a,y);g.lineTo(d,y);g.moveTo(a,y-4);g.lineTo(a,y+4);g.moveTo(d,y-4);g.lineTo(d,y+4);g.stroke();});g.restore();}}],
  options:{indexAxis:'y',responsive:false,animation:false,events:[],layout:{padding:{left:b.bl-b.l-2,right:b.l+b.w-2-b.br,top:pt,bottom:0}},plugins:{legend:{display:false},tooltip:{enabled:false}},
   scales:{x:{type:'linear',min:0,max:100,stacked:true,ticks:{display:false,stepSize:10},grid:{color:'#dcdcdc',drawTicks:false},border:{display:false}},y:{stacked:true,display:false}}}});
}
barChart('Ethiopia_TatarGur',barTatar,errTatar,{l:293,t:25,w:1113,h:39,tx:8,fs:18.6,bl:469,br:1390,bar:23,pt:3});
barChart('Ethiopia_TutoFela',barTuto,errTuto,{l:36,t:201,w:1178,h:38,tx:2,fs:20.2,ty:-1,bl:218,br:1211,bar:24,pt:3});
barChart('Ethiopia_SourreKabanawa_400BP',barSourre,errSourre,{l:525,t:566,w:1080,h:38,tx:1,fs:16,ty:-1,bl:788,br:1589,bar:20});

// ---- ancestry legend
const lbox=document.createElement('div');lbox.className='box';lbox.style.cssText='left:822px;top:827px;width:659px;height:66px;z-index:5;border-color:#222';document.body.appendChild(lbox);
const swX=[846,1111,1312],txX=[866,1130,1332];
ancestry.forEach((t,i)=>{const s=document.createElement('div');s.style.cssText=`position:absolute;left:${swX[i]}px;top:849px;width:15px;height:15px;background:${barColors[i]};border:1px solid #222;box-sizing:border-box;z-index:6`;document.body.appendChild(s);
 addText(t,txX[i],857,'font-size:27.5px;font-family:Liberation Sans;color:#111;-webkit-text-stroke:.25px #111;',6);});
</script>
</body></html>
